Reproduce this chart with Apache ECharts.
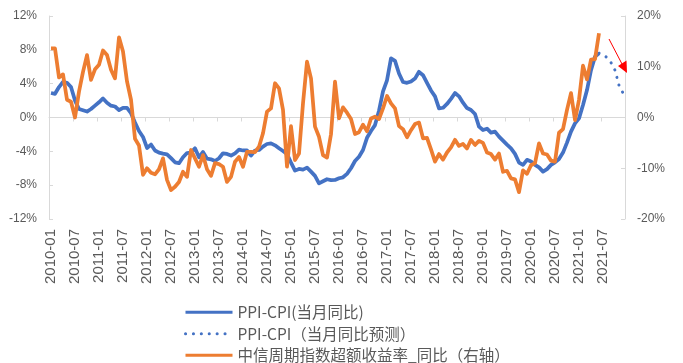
<!DOCTYPE html>
<html>
<head>
<meta charset="utf-8">
<script src="https://cdn.jsdelivr.net/npm/echarts@6/dist/echarts.min.js"></script>
<style>
html,body{margin:0;padding:0;background:#fff;}
#chart{width:683px;height:363px;}
</style>
</head>
<body>
<div id="chart"></div>
<script>
// ---- data ----
const years = [2010,2011,2012,2013,2014,2015,2016,2017,2018,2019,2020,2021];
const months = ['01','02','03','04','05','06','07','08','09','10','11','12'];
const categories = [];
years.forEach(y => months.forEach(m => categories.push(y + '-' + m)));

// PPI-CPI (当月同比), left axis, %
const ppiCpi = [
  2.9, 2.8, 3.6, 4.2, 4.1, 3.6, 2.0, 1.0, 0.85, 0.7, 1.0, 1.4,
  1.8, 2.25, 1.75, 1.4, 1.3, 0.87, 1.15, 1.15, 0.5, -0.6, -1.6, -2.3,
  -3.6, -3.2, -3.9, -4.15, -4.27, -4.35, -4.8, -5.3, -5.4, -4.7, -4.2, -4.15,
  -3.64, -4.7, -4.07, -4.86, -4.94, -5.14, -4.82, -4.23, -4.31, -4.5, -4.23, -3.8,
  -3.9, -3.9, -4.5, -3.9, -3.84, -3.44, -3.13, -3.05, -3.29, -3.64, -3.96, -4.31,
  -5.33, -6.28, -6.08, -6.16, -5.93, -6.4, -6.9, -7.78, -7.54, -7.3, -7.4, -7.38,
  -7.18, -7.07, -6.67, -6.0, -5.14, -4.63, -3.84, -2.4, -1.6, -0.9, 0.8, 3.1,
  4.4, 7.0, 6.7, 5.2, 4.2, 4.1, 4.25, 4.6, 5.4, 5.0, 4.1, 3.2,
  2.5, 1.07, 1.15, 1.6, 2.2, 2.9, 2.5, 1.75, 1.12, 0.89, 0.41, -1.08,
  -1.48, -1.32, -1.79, -1.67, -2.26, -2.74, -3.2, -3.64, -4.3, -5.33, -5.6, -5.0,
  -5.2, -5.6, -5.9, -6.4, -6.1, -5.6, -5.3, -4.9, -4.15, -2.97, -1.67, -0.69,
  -0.1, 1.48, 3.25, 5.6, 7.2, 7.6, null, null, null, null, null, null
];

// PPI-CPI forecast (当月同比预测), left axis, %
const ppiCpiForecastMonths = ['2021-06','2021-07','2021-08','2021-09','2021-10','2021-11','2021-12'];
const ppiCpiForecastValues = [7.6, 7.4, 7.1, 6.5, 5.6, 3.8, 2.9];

// 中信周期指数超额收益率_同比, right axis, %
const citicExcess = [
  13.6, 13.6, 7.9, 8.5, 3.5, 3.1, 0.0, 5.1, 9.0, 12.3, 7.4, 9.5,
  10.4, 13.2, 12.3, 9.4, 7.7, 15.8, 13.0, 7.1, 3.5, -4.2, -5.5, -11.3,
  -10.0, -10.9, -11.2, -10.2, -8.05, -12.3, -14.3, -13.65, -12.7, -10.7, -11.7, -6.4,
  -8.05, -9.7, -7.4, -10.2, -11.5, -9.0, -9.2, -9.7, -12.7, -11.7, -8.7, -7.8,
  -9.7, -6.75, -6.75, -6.8, -5.76, -3.1, 1.15, 1.8, 6.75, 5.75, 1.5, -9.7,
  -1.7, -8.4, -7.1, 2.8, 11.0, 7.7, -1.8, -3.8, -7.4, -7.9, -3.3, 7.07,
  -0.16, 2.0, 0.95, -0.3, -3.26, -2.9, -1.4, -2.7, -0.2, 0.16, -0.3, 1.8,
  4.24, 2.8, 1.8, -1.7, -2.3, -3.9, -2.5, -1.3, -1.0, -4.1, -4.0, -6.3,
  -8.7, -7.2, -8.3, -6.9, -5.9, -4.4, -5.6, -5.2, -6.1, -4.4, -5.4, -4.6,
  -5.0, -6.9, -7.2, -8.3, -7.1, -10.7, -10.5, -12.0, -12.2, -14.7, -10.4, -11.1,
  -9.4, -9.0, -5.1, -7.1, -7.3, -8.5, -8.7, -3.0, -2.3, 1.5, 4.8, -0.5,
  3.5, 10.2, 7.5, 11.4, 11.5, 16.6
];

// axis ticks
const leftAxisMin = -12, leftAxisMax = 12, leftAxisStep = 4;
const rightAxisMin = -20, rightAxisMax = 20, rightAxisStep = 10;

const seriesNames = ['PPI-CPI(当月同比)', 'PPI-CPI（当月同比预测）', '中信周期指数超额收益率_同比（右轴）'];

// ---- chart ----
const forecastData = categories.map(c => {
  const k = ppiCpiForecastMonths.indexOf(c);
  return k >= 0 ? ppiCpiForecastValues[k] : null;
});

const BLUE = '#4472C4', ORANGE = '#ED7D31', GRAY = '#D9D9D9', TXT = '#595959';
const FONT = '"Liberation Sans", Arial, sans-serif';

const chart = echarts.init(document.getElementById('chart'), null, {renderer: 'canvas'});
chart.setOption({
  animation: false,
  backgroundColor: '#fff',
  grid: {left: 49, right: 58, top: 16, bottom: 144, containLabel: false},
  legend: {
    orient: 'vertical',
    left: 184,
    top: 304.5,
    width: 480,
    height: 90,
    padding: 0,
    itemWidth: 47,
    itemHeight: 10,
    itemGap: 6,
    itemStyle: {opacity: 0},
    lineStyle: {width: 3},
    textStyle: {fontSize: 15.5, lineHeight: 15.5, color: TXT, fontFamily: '"Noto Sans CJK SC", sans-serif'},
    data: seriesNames
  },
  xAxis: [
    {
      type: 'category',
      data: categories,
      boundaryGap: true,
      position: 'bottom',
      axisLine: {show: false, onZero: false},
      axisTick: {show: false},
      axisLabel: {interval: 5, rotate: 90, color: TXT, fontSize: 15, fontFamily: FONT, margin: 10}
    },
    {
      type: 'category',
      data: categories,
      boundaryGap: true,
      position: 'bottom',
      axisLine: {show: true, onZero: true, lineStyle: {color: GRAY, width: 1}},
      axisTick: {show: true, interval: 5, length: 4, lineStyle: {color: GRAY}},
      axisLabel: {show: false}
    }
  ],
  yAxis: [
    {
      type: 'value',
      min: leftAxisMin, max: leftAxisMax, interval: leftAxisStep,
      position: 'left',
      axisLine: {show: true, lineStyle: {color: GRAY}},
      axisTick: {show: true, inside: true, length: 4, lineStyle: {color: GRAY}},
      splitLine: {show: false},
      axisLabel: {formatter: '{value}%', color: TXT, fontSize: 12, fontFamily: FONT, margin: 12}
    },
    {
      type: 'value',
      min: rightAxisMin, max: rightAxisMax, interval: rightAxisStep,
      position: 'right',
      axisLine: {show: true, lineStyle: {color: GRAY}},
      axisTick: {show: true, inside: true, length: 4, lineStyle: {color: GRAY}},
      splitLine: {show: false},
      axisLabel: {formatter: '{value}%', color: TXT, fontSize: 12, fontFamily: FONT, margin: 12}
    }
  ],
  series: [
    {
      name: seriesNames[0],
      type: 'line',
      xAxisIndex: 0, yAxisIndex: 0,
      data: ppiCpi,
      symbol: 'none',
      z: 2,
      lineStyle: {color: BLUE, width: 3.75, join: 'round'},
      itemStyle: {color: BLUE}
    },
    {
      name: seriesNames[1],
      type: 'line',
      xAxisIndex: 0, yAxisIndex: 0,
      data: forecastData,
      symbol: 'none',
      z: 2,
      lineStyle: {color: BLUE, width: 3, type: [0.1, 7.8], cap: 'round'},
      itemStyle: {color: BLUE}
    },
    {
      name: seriesNames[2],
      type: 'line',
      xAxisIndex: 0, yAxisIndex: 1,
      data: citicExcess,
      symbol: 'none',
      z: 3,
      lineStyle: {color: ORANGE, width: 3.75, join: 'round'},
      itemStyle: {color: ORANGE}
    }
  ],
  graphic: [
    {type: 'line', shape: {x1: 609, y1: 39, x2: 622, y2: 64}, style: {stroke: '#FF0000', lineWidth: 1}, z: 10},
    {type: 'polygon', shape: {points: [[627, 73], [626.5, 60.5], [618, 66]]}, style: {fill: '#FF0000'}, z: 10}
  ]
});
</script>
</body>
</html>
